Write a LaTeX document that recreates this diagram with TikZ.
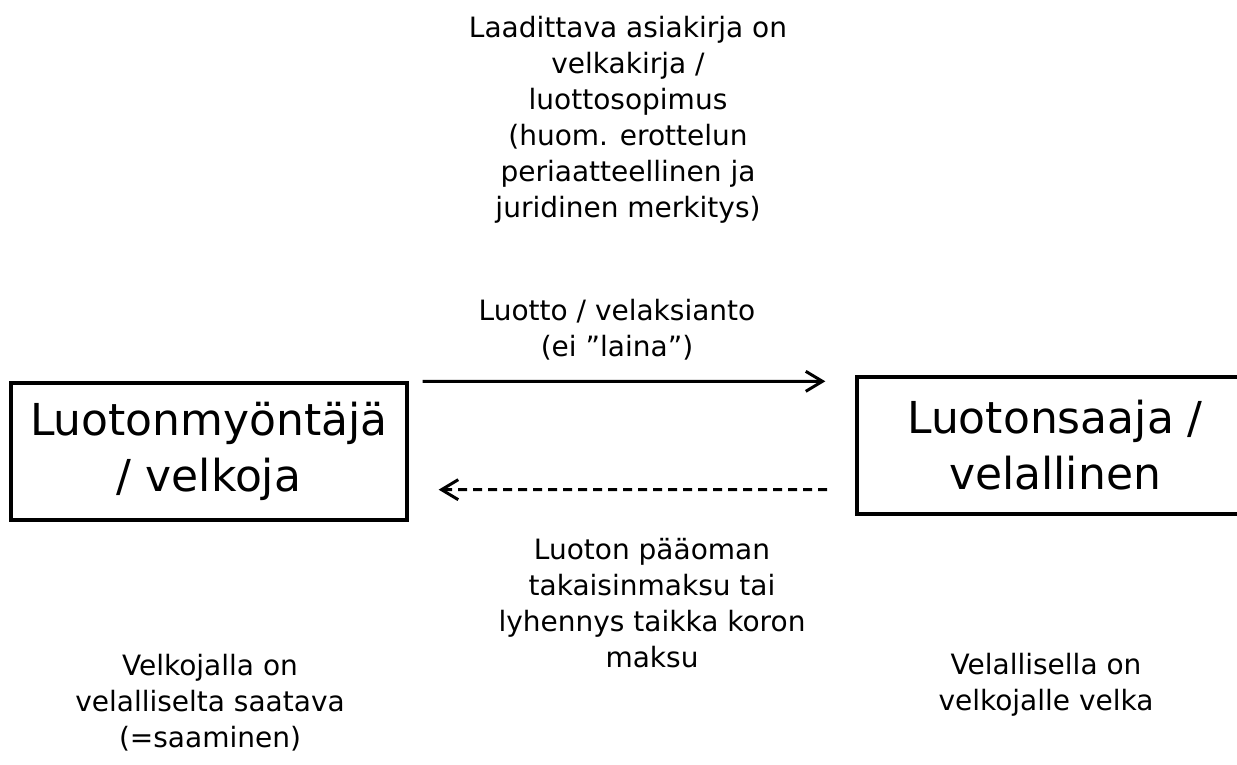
\documentclass[tikz,border=0pt]{standalone}
\usepackage{fontspec}
\setmainfont{DejaVu Sans}
\usetikzlibrary{arrows.meta,positioning}

\tikzset{
    party/.style={draw, line width=2pt, minimum width=237.6pt, minimum height=82.2pt, align=center, font=\fontsize{26.4}{33.6}\selectfont},
    note/.style={align=center, font=\fontsize{16.8}{21.6}\selectfont},
    credit/.style={line width=1.8pt, -{Straight Barb[length=10pt,width=12pt]}},
    repay/.style={line width=1.8pt, dash pattern=on 5.4pt off 3.6pt, {Straight Barb[length=10pt,width=12pt]}-}
}

\begin{document}
\begin{tikzpicture}[x=0.6pt, y=-0.6pt]
    \useasboundingbox (0,0) rectangle (1237,764);
    \node [party] (lbox) at (209,451.5) {Luotonmyöntäjä\\/ velkoja};
    \node [party] (rbox) at (1055,445.5) {Luotonsaaja /\\velallinen};

    \draw [credit] ([xshift=8.4pt]lbox.north east) -- ([shift={(-18pt,-3.6pt)}]rbox.north west);
    \draw [repay] ([shift={(18pt,19.2pt)}]lbox.south east) -- ([shift={(-16.8pt,15.6pt)}]rbox.south west);

    \node [note] (doc) at (628,120) {Laadittava asiakirja on\\velkakirja /\\luottosopimus\\(huom. erottelun\\periaatteellinen ja\\juridinen merkitys)};
    \node [note] (loan) at (617,330) {Luotto / velaksianto\\(ei ”laina”)};
    \node [note] (back) at (652,603) {Luoton pääoman\\takaisinmaksu tai\\lyhennys taikka koron\\maksu};
    \node [note] (claim) at (210,703) {Velkojalla on\\velalliselta saatava\\(=saaminen)};
    \node [note] (debt) at (1046,685) {Velallisella on\\velkojalle velka};
\end{tikzpicture}
\end{document}
